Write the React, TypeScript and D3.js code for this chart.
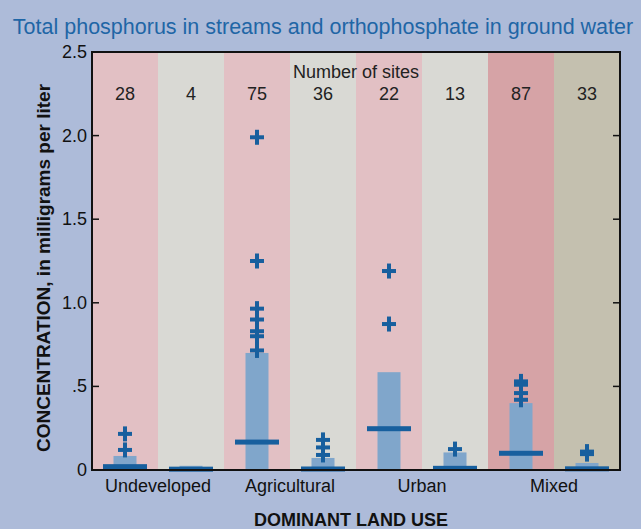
import React from "react";
import * as d3 from "d3";

const landUses = ["Undeveloped", "Agricultural", "Urban", "Mixed"];
const siteCounts = [28, 4, 75, 36, 22, 13, 87, 33];
const boxTops = [0.084, 0.025, 0.70, 0.072, 0.585, 0.105, 0.40, 0.042];
const medians = [0.02, 0.005, 0.167, 0.006, 0.247, 0.01, 0.10, 0.007];
const outliers: number[][] = [
  [0.216, 0.12],
  [],
  [1.99, 1.25, 0.965, 0.9, 0.83, 0.8, 0.715],
  [0.18, 0.135, 0.09],
  [1.19, 0.873],
  [0.125],
  [0.53, 0.51, 0.46, 0.42],
  [0.11, 0.095],
];
const yTicks = [0, 0.5, 1.0, 1.5, 2.0, 2.5];
const yTickLabels = ["0", ".5", "1.0", "1.5", "2.0", "2.5"];
const bandColors = ["#e2c0c4", "#d9d9d4", "#e2c0c4", "#d9d9d4", "#e2c0c4", "#d9d9d4", "#d6a3a6", "#c4c0af"];

const W = 641;
const H = 529;
const L = 92;
const R = 620;
const T = 52;
const B = 470;
const FONT = "'Liberation Sans', Arial, Helvetica, sans-serif";
const DARK = "#175f9e";
const BOX = "#80a6cb";

export default function App() {
  const x = d3.scaleBand<number>().domain(d3.range(siteCounts.length)).range([L, R]).padding(0);
  const y = d3.scaleLinear().domain([0, 2.5]).range([B, T]);
  const bw = x.bandwidth();
  const boxW = 23;
  const medW = 44;
  const medH = 5;

  return (
    <svg width={W} height={H} style={{ position: "absolute", left: 0, top: 0 }} fontFamily={FONT}>
      <rect x={0} y={0} width={W} height={H} fill="#adbbd9" />
      <text x={323} y={34} textAnchor="middle" fontSize={21.5} fill="#1f66a6">
        Total phosphorus in streams and orthophosphate in ground water
      </text>
      {siteCounts.map((_, i) => (
        <rect key={"bg" + i} x={x(i)} y={T} width={bw} height={B - T} fill={bandColors[i]} />
      ))}
      {boxTops.map((v, i) => {
        const cx = (x(i) as number) + bw / 2;
        return (
          <rect key={"box" + i} x={cx - boxW / 2} y={y(v)} width={boxW} height={y(0) - y(v) - 1} fill={BOX} />
        );
      })}
      {medians.map((v, i) => {
        const cx = (x(i) as number) + bw / 2;
        return (
          <rect key={"med" + i} x={cx - medW / 2} y={y(v) - medH / 2} width={medW} height={medH} fill={DARK} />
        );
      })}
      {outliers.map((arr, i) => {
        const cx = (x(i) as number) + bw / 2;
        return arr.map((v, j) => (
          <g key={"o" + i + "-" + j} stroke={DARK} strokeWidth={4}>
            <line x1={cx - 7} x2={cx + 7} y1={y(v)} y2={y(v)} />
            <line x1={cx} x2={cx} y1={y(v) - 7.5} y2={y(v) + 7.5} />
          </g>
        ));
      })}
      <text x={356} y={78} textAnchor="middle" fontSize={18} fill="#222">
        Number of sites
      </text>
      {siteCounts.map((c, i) => (
        <text key={"c" + i} x={(x(i) as number) + bw / 2} y={100} textAnchor="middle" fontSize={18} fill="#222">
          {c}
        </text>
      ))}
      <rect x={L} y={T} width={R - L} height={B - T} fill="none" stroke="#111" strokeWidth={2} />
      {yTicks.map((t, i) => (
        <g key={"t" + i}>
          <line x1={L} x2={L + 7} y1={y(t)} y2={y(t)} stroke="#111" strokeWidth={1.5} />
          <line x1={R - 7} x2={R} y1={y(t)} y2={y(t)} stroke="#111" strokeWidth={1.5} />
          <text x={87} y={y(t) + 6} textAnchor="end" fontSize={18} fill="#111">
            {yTickLabels[i]}
          </text>
        </g>
      ))}
      {landUses.map((lab, i) => (
        <text key={"l" + i} x={x(2 * i + 1) as number} y={492} textAnchor="middle" fontSize={18} fill="#111">
          {lab}
        </text>
      ))}
      <text x={351} y={526} textAnchor="middle" fontSize={18} fontWeight="bold" fill="#111">
        DOMINANT LAND USE
      </text>
      <text
        transform={`translate(50, 268) rotate(-90)`}
        textAnchor="middle"
        fontSize={19}
        fontWeight="bold"
        fill="#111"
      >
        CONCENTRATION, in milligrams per liter
      </text>
    </svg>
  );
}
